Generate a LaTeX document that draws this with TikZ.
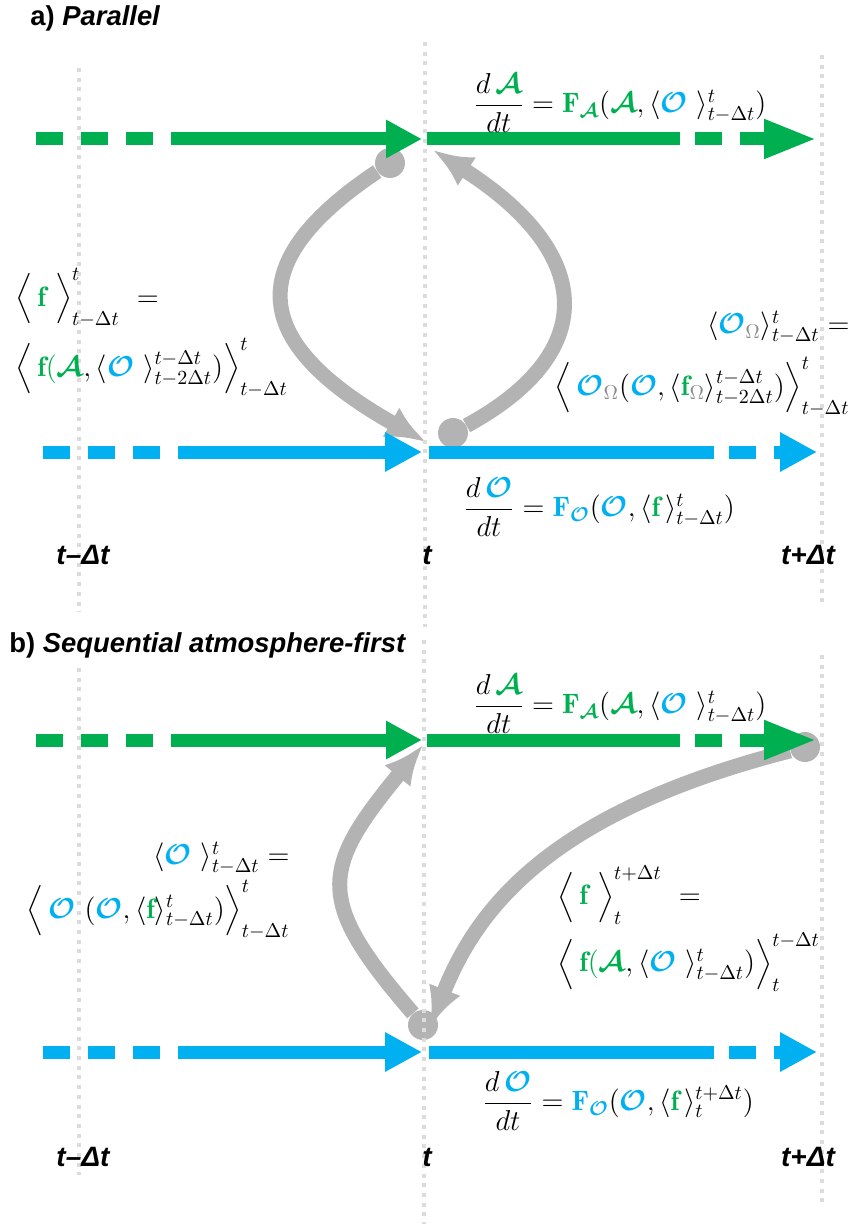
\documentclass[tikz,border=0pt]{standalone}
\usepackage{amsmath,amssymb}
\usepackage{fontspec}
\newfontfamily\labelfont{Liberation Sans}
\usetikzlibrary{arrows.meta}
\definecolor{AtmGreen}{HTML}{00B050}
\definecolor{OcnBlue}{HTML}{00B0F0}
\definecolor{LinkGray}{HTML}{B3B3B3}
\definecolor{GuideGray}{HTML}{DCDCDC}
\definecolor{OmegaGray}{HTML}{8C8C8C}
\newcommand{\atmA}{{\color{AtmGreen}\boldsymbol{\mathcal{A}}}}
\newcommand{\ocnO}{{\color{OcnBlue}\boldsymbol{\mathcal{O}}}}
\newcommand{\fluxf}{{\color{AtmGreen}\mathbf{f}}}
\newcommand{\dT}{t-\Delta t}

\begin{document}
\begin{tikzpicture}[x=0.5pt,y=-0.5pt,
  atm/.style={AtmGreen,line width=6.5pt},
  ocn/.style={OcnBlue,line width=6.5pt},
  gaps/.style={dash pattern=on 13.5pt off 9pt},
  link/.style={LinkGray,line width=7.5pt,-{Latex[length=20pt,width=17pt]}},
  dot/.style={circle,fill=LinkGray,inner sep=0pt,minimum size=15pt},
  guide/.style={GuideGray,line width=2pt,dash pattern=on 2pt off 2.85pt},
  eq/.style={inner sep=0pt,font=\fontsize{14}{17}\selectfont},
  tlabel/.style={inner sep=0pt,font=\labelfont\bfseries\itshape\fontsize{14}{16}\selectfont},
  title/.style={inner sep=0pt,anchor=west,font=\labelfont\bfseries\fontsize{13.7}{16}\selectfont}]
  \useasboundingbox (0,0) rectangle (853,1224);

  % a) parallel
  \node[title] (titleA) at (30,18) {a) \textit{Parallel}};
  \node[dot] (da1) at (390,163) {}; \node[dot] (da2) at (453,433) {};
  \coordinate (ta1) at (426,442); \coordinate (ta2) at (433,150);
  \draw[link] (da1) .. controls (245,260) and (245,340) .. (ta1);
  \draw[link] (da2) .. controls (605,350) and (590,250) .. (ta2);
  \draw[guide] (79,68) -- (79,612); \draw[guide] (425,42) -- (425,627); \draw[guide] (822,55) -- (822,605);
  \draw[atm,gaps] (36,139) -- (186,139); \draw[atm,-{Triangle[length=18pt,width=18pt]}] (182,139) -- (422,139);
  \draw[atm] (427,139) -- (680,139); \draw[atm,gaps,-{Triangle[length=26.5pt,width=18pt]}] (695,139) -- (817,139);
  \draw[ocn,gaps] (43,452) -- (193,452); \draw[ocn,-{Triangle[length=18.5pt,width=18.5pt]}] (189,452) -- (422,452);
  \draw[ocn] (429,452) -- (714,452); \draw[ocn,gaps,-{Triangle[length=18.5pt,width=18.5pt]}] (729,452) -- (817,452);
  \node[eq,anchor=west] (dAdtA) at (473,103) {$\dfrac{d\,\atmA}{dt}={\color{AtmGreen}\mathbf{F}_{\boldsymbol{\mathcal{A}}}}(\atmA,\langle\ocnO\ \rangle^{t}_{\dT})$};
  \node[eq,anchor=west] (dOdtA) at (463,507) {$\dfrac{d\,\ocnO}{dt}={\color{OcnBlue}\mathbf{F}_{\boldsymbol{\mathcal{O}}}}(\ocnO,\langle\fluxf\,\rangle^{t}_{\dT})$};
  \node[eq,anchor=west] (fluxA1) at (15,298) {$\Big\langle\,\fluxf\ \Big\rangle^{t}_{\dT}\ =$};
  \node[eq,anchor=west] (fluxA2) at (15,368) {$\Big\langle\,{\color{AtmGreen}\mathbf{f}(}\atmA,\langle\ocnO\ \rangle^{\dT}_{t-2\Delta t})\Big\rangle^{t}_{\dT}$};
  \node[eq,anchor=east] (ocnA1) at (850,327) {$\langle\ocnO_{\color{OmegaGray}\Omega}\rangle^{t}_{\dT}=$};
  \node[eq,anchor=east] (ocnA2) at (850,387) {$\Big\langle\,\ocnO_{\color{OmegaGray}\Omega}(\ocnO,\langle\fluxf_{\color{OmegaGray}\Omega}\rangle^{\dT}_{t-2\Delta t})\Big\rangle^{t}_{\dT}$};
  \node[tlabel] (tpA) at (83,555) {t–Δt}; \node[tlabel] (tA) at (427,555) {t}; \node[tlabel] (tnA) at (808,555) {t+Δt};

  % b) sequential atmosphere-first
  \node[title] (titleB) at (9,645) {b) \textit{Sequential atmosphere-first}};
  \node[dot] (db1) at (423,1025) {}; \node[dot] (db2) at (805,747) {};
  \coordinate (tb1) at (423,745); \coordinate (tb2) at (430,1027);
  \draw[link] (db1) .. controls (315,900) and (320,870) .. (tb1);
  \draw[link] (db2) .. controls (560,810) and (480,900) .. (tb2);
  \draw[guide] (79,668) -- (79,1175); \draw[guide] (424,640) -- (424,1224); \draw[guide] (822,655) -- (822,1207);
  \draw[atm,gaps] (36,740) -- (186,740); \draw[atm,-{Triangle[length=18pt,width=18pt]}] (182,740) -- (422,740);
  \draw[atm] (427,740) -- (680,740); \draw[atm,gaps,-{Triangle[length=26.5pt,width=18pt]}] (695,740) -- (817,740);
  \draw[ocn,gaps] (43,1052) -- (193,1052); \draw[ocn,-{Triangle[length=18.5pt,width=18.5pt]}] (189,1052) -- (422,1052);
  \draw[ocn] (429,1052) -- (714,1052); \draw[ocn,gaps,-{Triangle[length=18.5pt,width=18.5pt]}] (729,1052) -- (817,1052);
  \node[eq,anchor=west] (dAdtB) at (473,704) {$\dfrac{d\,\atmA}{dt}={\color{AtmGreen}\mathbf{F}_{\boldsymbol{\mathcal{A}}}}(\atmA,\langle\ocnO\ \rangle^{t}_{\dT})$};
  \node[eq,anchor=west] (dOdtB) at (482,1101) {$\dfrac{d\,\ocnO}{dt}={\color{OcnBlue}\mathbf{F}_{\boldsymbol{\mathcal{O}}}}(\ocnO,\langle\fluxf\,\rangle^{t+\Delta t}_{t})$};
  \node[eq,anchor=east] (ocnB1) at (290,858) {$\langle\ocnO\ \rangle^{t}_{\dT}=$};
  \node[eq,anchor=east] (ocnB2) at (290,910) {$\Big\langle\,\ocnO\ (\ocnO,\langle\fluxf\rangle^{t}_{\dT})\Big\rangle^{t}_{\dT}$};
  \node[eq,anchor=west] (fluxB1) at (557,895) {$\Big\langle\,\fluxf\ \Big\rangle^{t+\Delta t}_{t}\ =$};
  \node[eq,anchor=west] (fluxB2) at (557,962) {$\Big\langle\,{\color{AtmGreen}\mathbf{f}(}\atmA,\langle\ocnO\ \rangle^{t}_{\dT})\Big\rangle^{\dT}_{t}$};
  \node[tlabel] (tpB) at (83,1157) {t–Δt}; \node[tlabel] (tB) at (427,1157) {t}; \node[tlabel] (tnB) at (808,1157) {t+Δt};
\end{tikzpicture}
\end{document}
